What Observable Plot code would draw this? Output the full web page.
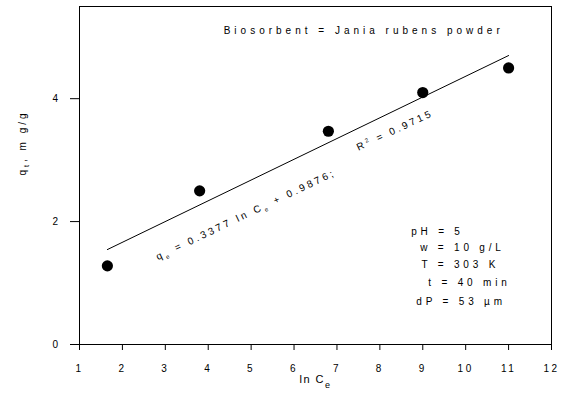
<!DOCTYPE html>
<html><head><meta charset="utf-8">
<script src="https://cdn.jsdelivr.net/npm/d3@7"></script>
<script src="https://cdn.jsdelivr.net/npm/@observablehq/plot@0.6"></script>
<style>body{margin:0;background:#fff}</style>
</head><body><div id="chart"></div>
<script>
// Data
const lnCe = [1.65, 3.8, 6.8, 9.0, 11.0];
const qt = [1.28, 2.5, 3.47, 4.1, 4.5];
// Fitted line end points (qe = 0.3377 ln Ce + 0.9876)
const fitLnCe = [1.65, 11.0];
const fitQ = [1.545, 4.702];
const xTicks = [1, 2, 3, 4, 5, 6, 7, 8, 9, 10, 11, 12];
const yTicks = [0, 2, 4];
const titleText = "Biosorbent = Jania rubens powder";
const eqText = "q_e = 0.3377 ln C_e + 0.9876;";
const r2Text = "R^2 = 0.9715";
const conditions = ["pH = 5", "w = 10 g/L", "T = 303 K", "t = 40 min", "dP = 53 µm"];
const xLabel = "ln C_e";
const yLabel = "q_t, m g/g";

// annotation anchors (data units)
const condAnchorX = [8.73, 8.94, 8.97, 9.13, 8.85];
const condAnchorY = [1.83, 1.58, 1.29, 1.00, 0.70];

const points = lnCe.map((x, i) => ({x, y: qt[i]}));
const fit = fitLnCe.map((x, i) => ({x, y: fitQ[i]}));
const conds = conditions.map((t, i) => ({t, x: condAnchorX[i], y: condAnchorY[i]}));

const FONT = "'Liberation Sans', Arial, Helvetica, sans-serif";

const plot = Plot.plot({
  width: 564,
  height: 401,
  marginLeft: 79,
  marginRight: 13,
  marginTop: 6,
  marginBottom: 57,
  style: {fontFamily: FONT, fontSize: "10px", background: "white", color: "black"},
  x: {domain: [1, 12], ticks: xTicks, tickFormat: d => String(d), tickSize: 6, tickPadding: 14, label: null},
  y: {domain: [0, 5.5], ticks: yTicks, tickFormat: d => String(d), tickSize: 9, tickPadding: 10, label: null},
  marks: [
    Plot.frame({stroke: "black", strokeWidth: 1}),
    Plot.line(fit, {x: "x", y: "y", stroke: "black", strokeWidth: 1}),
    Plot.dot(points, {x: "x", y: "y", r: 5.6, fill: "black", stroke: "none"}),
    Plot.text([titleText], {x: 4.36, y: 5.11, text: d => d, textAnchor: "start", fontSize: 10}),
    Plot.text([eqText], {x: 2.80, y: 1.42, text: d => d, textAnchor: "start", rotate: -25.5, fontSize: 10}),
    Plot.text([r2Text], {x: 7.47, y: 3.20, text: d => d, textAnchor: "start", rotate: -25, fontSize: 10}),
    Plot.text(conds, {x: "x", y: "y", text: "t", textAnchor: "start", fontSize: 10}),
    Plot.text([xLabel], {frameAnchor: "bottom", dy: 38, text: d => d, fontSize: 11}),
    Plot.text([yLabel], {frameAnchor: "left", dx: -57, rotate: -90, text: d => d, fontSize: 10})
  ]
});

// letter spacing everywhere (like the original) and rich sub/superscripts
const svg = d3.select(plot);
svg.selectAll("text").style("letter-spacing", "2.5px").attr("fill", "black");

function richify(el, subSize, subShift, supSize, supShift) {
  const s = el.textContent;
  if (!/[_^]/.test(s)) return;
  const sel = d3.select(el);
  sel.text(null);
  const re = /([_^])(.)/g;
  let last = 0, m, offset = 0;
  while ((m = re.exec(s)) !== null) {
    if (m.index > last) {
      sel.append("tspan").attr("dy", -offset || null).text(s.slice(last, m.index));
      offset = 0;
    }
    const sub = m[1] === "_";
    const shift = sub ? subShift : -supShift;
    sel.append("tspan").attr("dy", shift - offset).attr("font-size", sub ? subSize : supSize).text(m[2]);
    offset = shift;
    last = re.lastIndex;
  }
  if (last < s.length) sel.append("tspan").attr("dy", -offset || null).text(s.slice(last));
}

svg.selectAll("text").each(function() {
  const s = this.textContent;
  if (s === eqText) { d3.select(this).style("letter-spacing", "2.9px"); richify(this, 6, 3, 6, 4); }
  else if (s === r2Text) { d3.select(this).style("letter-spacing", "2.8px"); richify(this, 6, 3, 6, 4); }
  else if (s === xLabel) { d3.select(this).style("letter-spacing", "1.5px"); richify(this, 9, 5, 9, 4); }
  else if (s === yLabel) { d3.select(this).style("letter-spacing", "3px"); richify(this, 7, 3, 7, 4); }
  else if (s === titleText) d3.select(this).style("letter-spacing", "4px");
  else if (conditions.includes(s)) d3.select(this).style("letter-spacing", "3.8px");
});

document.getElementById("chart").appendChild(plot);
</script>
</body></html>
